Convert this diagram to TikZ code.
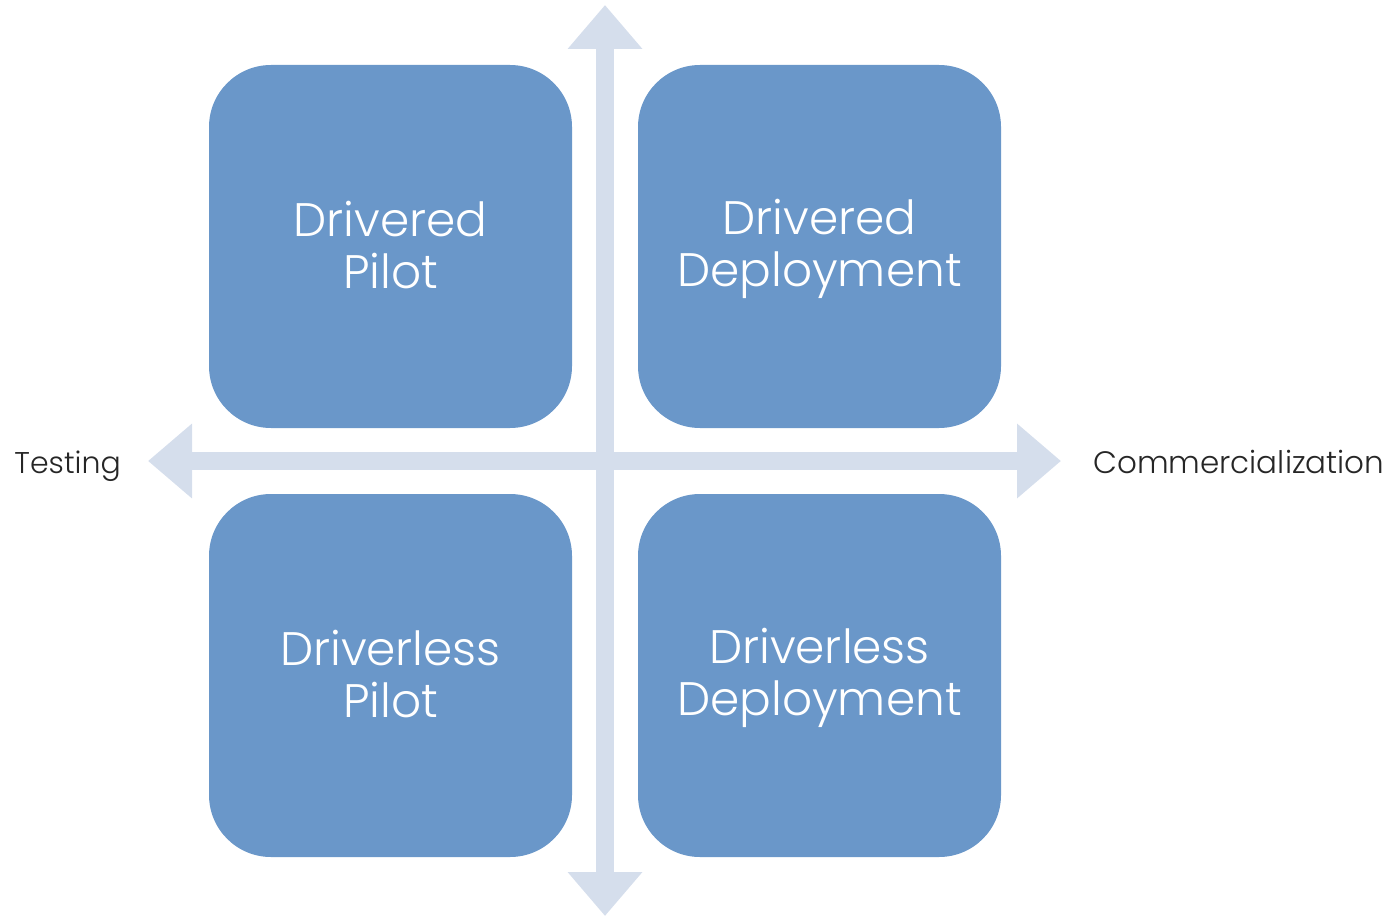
\documentclass[tikz,border=0pt]{standalone}
\usepackage{fontspec}
\setmainfont{Poppins}[UprightFont=* Light]
\usetikzlibrary{arrows.meta}
\definecolor{boxblue}{HTML}{6A97C9}
\definecolor{axisblue}{HTML}{D5DEEC}
\definecolor{labelgray}{HTML}{262626}
\newcommand{\qstrut}{\rule[-10pt]{0pt}{51pt}}
\begin{document}
\begin{tikzpicture}[x=1pt,y=-1pt,
  quad/.style={rectangle, rounded corners=62pt, fill=boxblue, minimum width=363pt, minimum height=363pt, inner sep=0pt, text=white, align=center, font=\fontsize{47}{52}\selectfont},
  axis/.style={draw=axisblue, line width=18pt, {Triangle[width=72pt,length=44pt]}-{Triangle[width=72pt,length=44pt]}},
  axlabel/.style={text=labelgray, font=\fontsize{30}{36}\selectfont, inner sep=0pt}]
\useasboundingbox (0,0) rectangle (1391,917);
\coordinate (top) at (605,5);
\coordinate (bot) at (605,916);
\coordinate (lft) at (148,461);
\coordinate (rgt) at (1061,461);
\draw[axis] (top) -- (bot);
\draw[axis] (lft) -- (rgt);
\node[quad] (tl) at (390.5,246.5) {\qstrut Drivered\\\qstrut Pilot};
\node[quad] (tr) at (819.5,246.5) {\qstrut Drivered\\\qstrut Deployment};
\node[quad] (bl) at (390.5,675.5) {\qstrut Driverless\\\qstrut Pilot};
\node[quad] (br) at (819.5,675.5) {\qstrut Driverless\\\qstrut Deployment};
\node[axlabel, anchor=base east] (test) at (121,473) {Testing};
\node[axlabel, anchor=base west, font=\fontsize{31}{36}\selectfont] (comm) at (1093,473) {Commercialization};
\end{tikzpicture}
\end{document}
